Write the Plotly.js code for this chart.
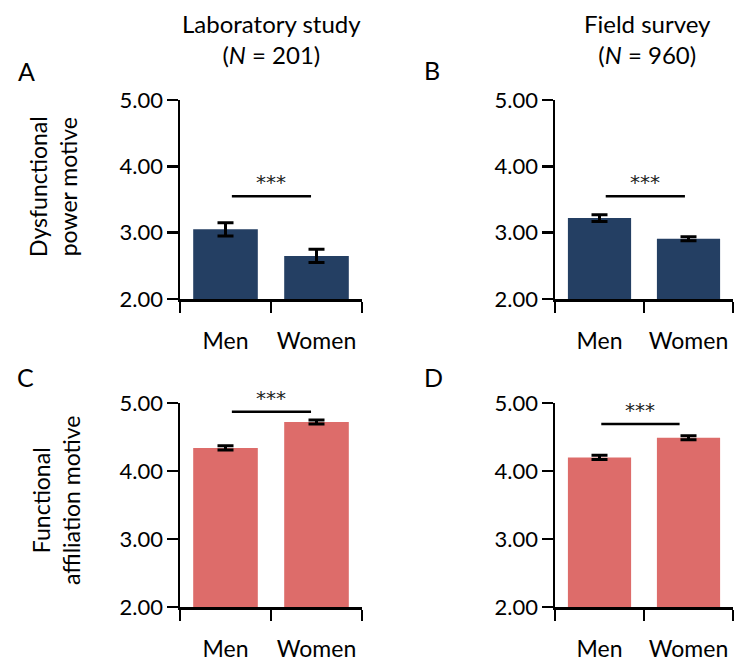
<!DOCTYPE html>
<html><head><meta charset="utf-8">
<script src="https://cdn.plot.ly/plotly-3.0.1.min.js"></script>
<style>body{margin:0;background:#fff}#chart{width:734px;height:661px}</style>
</head><body><div id="chart"></div>
<script>
// ---- data ----
const categories = ['Men', 'Women'];
const catPos = [0, 1];
const panelLetters = ['A', 'B', 'C', 'D'];
const studyTitles = ['Laboratory study', 'Field survey'];
const studyN = [201, 960];
const yTitles = ['Dysfunctional<br>power motive', 'Functional<br>affiliation motive'];
const yTickVals = [2, 3, 4, 5];
const yTickText = ['2.00', '3.00', '4.00', '5.00'];

const powerLab = [3.05, 2.65];
const powerLabErr = [0.10, 0.10];
const powerField = [3.22, 2.91];
const powerFieldErr = [0.05, 0.03];
const affLab = [4.34, 4.72];
const affLabErr = [0.03, 0.03];
const affField = [4.20, 4.49];
const affFieldErr = [0.03, 0.03];

const sigLabel = '***';
const sigY = [3.55, 3.55, 4.87, 4.69];
const sigX0 = [0.07, 0.07, 0.07, 0.02];
const sigX1 = [0.94, 0.96, 0.94, 0.90];

// ---- style ----
const W = 734, H = 661;
const navy = '#243F63', red = '#DD6C6A';
const FONT = 'Lato, "Open Sans", sans-serif';
const px = v => v / W;
const py = v => 1 - v / H;

const colDom = [[px(180), px(362)], [px(555), px(733)]];
const rowDom = [[py(299), py(100)], [py(607), py(403)]];

const panels = [
  {vals: powerLab, err: powerLabErr, color: navy, col: 0, row: 0},
  {vals: powerField, err: powerFieldErr, color: navy, col: 1, row: 0},
  {vals: affLab, err: affLabErr, color: red, col: 0, row: 1},
  {vals: affField, err: affFieldErr, color: red, col: 1, row: 1}
];

const data = [];
const layout = {
  width: W, height: H,
  margin: {l: 0, r: 0, t: 0, b: 0},
  paper_bgcolor: '#fff', plot_bgcolor: 'rgba(0,0,0,0)',
  showlegend: false,
  font: {family: FONT, color: '#000', size: 20},
  shapes: [], annotations: []
};

panels.forEach((p, i) => {
  const n = i + 1;
  const xa = 'x' + (n === 1 ? '' : n), ya = 'y' + (n === 1 ? '' : n);
  data.push({
    type: 'bar', x: catPos, y: p.vals, xaxis: xa, yaxis: ya,
    width: 0.71, marker: {color: p.color, line: {width: 0}},
    error_y: {type: 'data', array: p.err, visible: true, color: '#000', thickness: 3, width: 8},
    hoverinfo: 'skip'
  });
  layout['xaxis' + (n === 1 ? '' : n)] = {
    domain: colDom[p.col], anchor: ya, range: [-0.5, 1.5],
    tickmode: 'array', tickvals: catPos, ticktext: categories, ticks: '',
    ticklabelstandoff: 20,
    tickfont: {size: 23, family: FONT, color: '#000'},
    showline: true, linecolor: '#000', linewidth: 2.5,
    showgrid: false, zeroline: false, fixedrange: true,
    minor: {tickmode: 'array', tickvals: [-0.5, 0.5, 1.5], ticks: 'outside', ticklen: 11, tickwidth: 2.5, tickcolor: '#000', showgrid: false}
  };
  layout['yaxis' + (n === 1 ? '' : n)] = {
    domain: rowDom[p.row], anchor: xa, range: [2, 5],
    tickmode: 'array', tickvals: yTickVals, ticktext: yTickText,
    ticks: 'outside', ticklen: 11, tickwidth: 2.5, tickcolor: '#000',
    ticklabelstandoff: -1,
    tickfont: {size: 22, family: FONT, color: '#000'},
    showline: true, linecolor: '#000', linewidth: 2.5,
    showgrid: false, zeroline: false, fixedrange: true
  };
  layout.shapes.push({
    type: 'line', xref: xa, yref: ya, x0: sigX0[i], x1: sigX1[i], y0: sigY[i], y1: sigY[i],
    line: {color: '#000', width: 2.5}
  });
  layout.annotations.push({
    xref: xa, yref: ya, x: (sigX0[i] + sigX1[i]) / 2, y: sigY[i], text: sigLabel,
    showarrow: false, yanchor: 'middle', yshift: 14,
    font: {family: '"DejaVu Sans", sans-serif', size: 20, color: '#222'}
  });
});

// panel letters
const letterPos = [[26, 71], [432, 70], [25, 377], [434, 377]];
panelLetters.forEach((L, i) => {
  layout.annotations.push({
    xref: 'paper', yref: 'paper', x: px(letterPos[i][0]), y: py(letterPos[i][1]),
    text: L, showarrow: false, xanchor: 'center', yanchor: 'middle',
    font: {size: 25, family: FONT, color: '#000'}
  });
});

// column titles
const titleX = [271, 647];
studyTitles.forEach((t, i) => {
  layout.annotations.push({
    xref: 'paper', yref: 'paper', x: px(titleX[i]), y: py(38.5),
    text: t + '<br>(<i>N</i> = ' + studyN[i] + ')', showarrow: false,
    xanchor: 'center', yanchor: 'middle',
    font: {size: 24, family: FONT, color: '#000'}
  });
});

// y titles
const yTitlePos = [[53, 187], [56, 501]];
yTitles.forEach((t, i) => {
  layout.annotations.push({
    xref: 'paper', yref: 'paper', x: px(yTitlePos[i][0]), y: py(yTitlePos[i][1]),
    text: t, showarrow: false, textangle: -90, xanchor: 'center', yanchor: 'middle',
    font: {size: 23, family: FONT, color: '#000'}
  });
});

Plotly.newPlot('chart', data, layout, {displayModeBar: false, staticPlot: true});
</script>
</body></html>
